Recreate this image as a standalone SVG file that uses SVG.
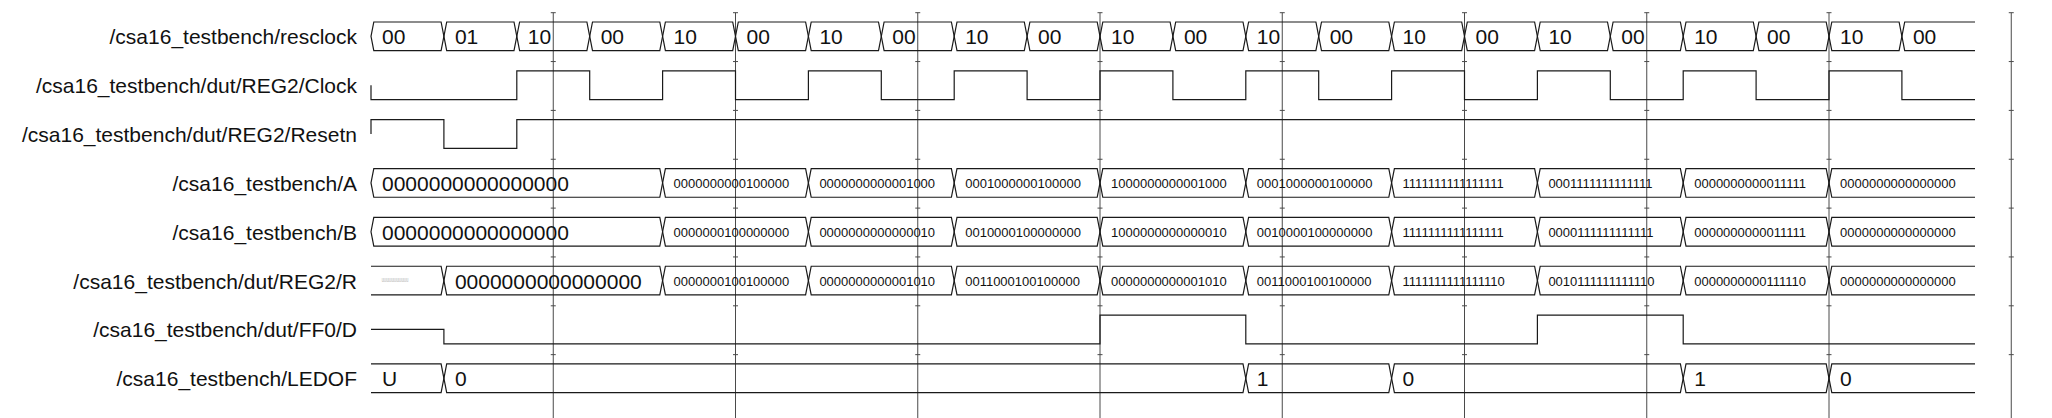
<svg xmlns="http://www.w3.org/2000/svg" xmlns:xlink="http://www.w3.org/1999/xlink" width="2052" height="418" viewBox="0 0 2052 418">
<style>
text{font-family:"Liberation Sans",Arial,sans-serif;fill:#111}
.lbl{font-size:21px;text-anchor:end}
.big{font-size:21px}
.sm{font-size:13px}
.tiny{font-size:5px;fill:#9a9a9a}
.w{fill:none;stroke:#1a1a1a;stroke-width:1.2;stroke-linejoin:miter}
.g{fill:none;stroke:#4a4a4a;stroke-width:1}
</style>
<defs>
<g id="gl">
<line class="g" x1="0" y1="12.7" x2="0" y2="418"/>
<path class="g" d="M-2.5,12.7h5M-2.5,61.55h5M-2.5,110.4h5M-2.5,159.25h5M-2.5,208.1h5M-2.5,256.95h5M-2.5,305.8h5M-2.5,354.65h5"/>
</g>
</defs>
<rect width="2052" height="418" fill="#fff"/>

<g id="connectors">
<use href="#gl" x="553.25"/>
<use href="#gl" x="735.5"/>
<use href="#gl" x="917.75"/>
<use href="#gl" x="1100"/>
<use href="#gl" x="1282.25"/>
<use href="#gl" x="1464.5"/>
<use href="#gl" x="1646.75"/>
<use href="#gl" x="1829"/>
<use href="#gl" x="2011.25"/>
</g>

<g id="sig-resclock" transform="translate(0,22)">
<text class="lbl" x="357" y="22.35">/csa16_testbench/resclock</text>
<g class="w">
<polygon points="371,14.35 373.8,0 441.1,0 443.9,14.35 441.1,28.7 373.8,28.7"/>
<polygon points="443.9,14.35 446.7,0 514,0 516.8,14.35 514,28.7 446.7,28.7"/>
<polygon points="516.8,14.35 519.6,0 586.9,0 589.7,14.35 586.9,28.7 519.6,28.7"/>
<polygon points="589.7,14.35 592.5,0 659.8,0 662.6,14.35 659.8,28.7 592.5,28.7"/>
<polygon points="662.6,14.35 665.4,0 732.7,0 735.5,14.35 732.7,28.7 665.4,28.7"/>
<polygon points="735.5,14.35 738.3,0 805.6,0 808.4,14.35 805.6,28.7 738.3,28.7"/>
<polygon points="808.4,14.35 811.2,0 878.5,0 881.3,14.35 878.5,28.7 811.2,28.7"/>
<polygon points="881.3,14.35 884.1,0 951.4,0 954.2,14.35 951.4,28.7 884.1,28.7"/>
<polygon points="954.2,14.35 957,0 1024.3,0 1027.1,14.35 1024.3,28.7 957,28.7"/>
<polygon points="1027.1,14.35 1029.9,0 1097.2,0 1100,14.35 1097.2,28.7 1029.9,28.7"/>
<polygon points="1100,14.35 1102.8,0 1170.1,0 1172.9,14.35 1170.1,28.7 1102.8,28.7"/>
<polygon points="1172.9,14.35 1175.7,0 1243,0 1245.8,14.35 1243,28.7 1175.7,28.7"/>
<polygon points="1245.8,14.35 1248.6,0 1315.9,0 1318.7,14.35 1315.9,28.7 1248.6,28.7"/>
<polygon points="1318.7,14.35 1321.5,0 1388.8,0 1391.6,14.35 1388.8,28.7 1321.5,28.7"/>
<polygon points="1391.6,14.35 1394.4,0 1461.7,0 1464.5,14.35 1461.7,28.7 1394.4,28.7"/>
<polygon points="1464.5,14.35 1467.3,0 1534.6,0 1537.4,14.35 1534.6,28.7 1467.3,28.7"/>
<polygon points="1537.4,14.35 1540.2,0 1607.5,0 1610.3,14.35 1607.5,28.7 1540.2,28.7"/>
<polygon points="1610.3,14.35 1613.1,0 1680.4,0 1683.2,14.35 1680.4,28.7 1613.1,28.7"/>
<polygon points="1683.2,14.35 1686,0 1753.3,0 1756.1,14.35 1753.3,28.7 1686,28.7"/>
<polygon points="1756.1,14.35 1758.9,0 1826.2,0 1829,14.35 1826.2,28.7 1758.9,28.7"/>
<polygon points="1829,14.35 1831.8,0 1899.1,0 1901.9,14.35 1899.1,28.7 1831.8,28.7"/>
<path d="M1975,0H1904.7L1901.9,14.35L1904.7,28.7H1975"/>
</g>
<text class="big" x="382" y="22.35">00</text>
<text class="big" x="454.9" y="22.35">01</text>
<text class="big" x="527.8" y="22.35">10</text>
<text class="big" x="600.7" y="22.35">00</text>
<text class="big" x="673.6" y="22.35">10</text>
<text class="big" x="746.5" y="22.35">00</text>
<text class="big" x="819.4" y="22.35">10</text>
<text class="big" x="892.3" y="22.35">00</text>
<text class="big" x="965.2" y="22.35">10</text>
<text class="big" x="1038.1" y="22.35">00</text>
<text class="big" x="1111" y="22.35">10</text>
<text class="big" x="1183.9" y="22.35">00</text>
<text class="big" x="1256.8" y="22.35">10</text>
<text class="big" x="1329.7" y="22.35">00</text>
<text class="big" x="1402.6" y="22.35">10</text>
<text class="big" x="1475.5" y="22.35">00</text>
<text class="big" x="1548.4" y="22.35">10</text>
<text class="big" x="1621.3" y="22.35">00</text>
<text class="big" x="1694.2" y="22.35">10</text>
<text class="big" x="1767.1" y="22.35">00</text>
<text class="big" x="1840" y="22.35">10</text>
<text class="big" x="1912.9" y="22.35">00</text>
</g>

<g id="sig-clock" transform="translate(0,70.85)">
<text class="lbl" x="357" y="22.35">/csa16_testbench/dut/REG2/Clock</text>
<path class="w" d="M371,14.35V28.7H516.8V0H589.7V28.7H662.6V0H735.5V28.7H808.4V0H881.3V28.7H954.2V0H1027.1V28.7H1100V0H1172.9V28.7H1245.8V0H1318.7V28.7H1391.6V0H1464.5V28.7H1537.4V0H1610.3V28.7H1683.2V0H1756.1V28.7H1829V0H1901.9V28.7H1975"/>
</g>

<g id="sig-resetn" transform="translate(0,119.7)">
<text class="lbl" x="357" y="22.35">/csa16_testbench/dut/REG2/Resetn</text>
<path class="w" d="M371,14.35V0H443.9V28.7H516.8V0H1975"/>
</g>

<g id="sig-A" transform="translate(0,168.55)">
<text class="lbl" x="357" y="22.35">/csa16_testbench/A</text>
<g class="w">
<polygon points="371,14.35 373.8,0 659.8,0 662.6,14.35 659.8,28.7 373.8,28.7"/>
<polygon points="662.6,14.35 665.4,0 805.6,0 808.4,14.35 805.6,28.7 665.4,28.7"/>
<polygon points="808.4,14.35 811.2,0 951.4,0 954.2,14.35 951.4,28.7 811.2,28.7"/>
<polygon points="954.2,14.35 957,0 1097.2,0 1100,14.35 1097.2,28.7 957,28.7"/>
<polygon points="1100,14.35 1102.8,0 1243,0 1245.8,14.35 1243,28.7 1102.8,28.7"/>
<polygon points="1245.8,14.35 1248.6,0 1388.8,0 1391.6,14.35 1388.8,28.7 1248.6,28.7"/>
<polygon points="1391.6,14.35 1394.4,0 1534.6,0 1537.4,14.35 1534.6,28.7 1394.4,28.7"/>
<polygon points="1537.4,14.35 1540.2,0 1680.4,0 1683.2,14.35 1680.4,28.7 1540.2,28.7"/>
<polygon points="1683.2,14.35 1686,0 1826.2,0 1829,14.35 1826.2,28.7 1686,28.7"/>
<path d="M1975,0H1831.8L1829,14.35L1831.8,28.7H1975"/>
</g>
<text class="big" x="382" y="22.35">0000000000000000</text>
<text class="sm" x="673.6" y="19.85">0000000000100000</text>
<text class="sm" x="819.4" y="19.85">0000000000001000</text>
<text class="sm" x="965.2" y="19.85">0001000000100000</text>
<text class="sm" x="1111" y="19.85">1000000000001000</text>
<text class="sm" x="1256.8" y="19.85">0001000000100000</text>
<text class="sm" x="1402.6" y="19.85">1111111111111111</text>
<text class="sm" x="1548.4" y="19.85">0001111111111111</text>
<text class="sm" x="1694.2" y="19.85">0000000000011111</text>
<text class="sm" x="1840" y="19.85">0000000000000000</text>
</g>

<g id="sig-B" transform="translate(0,217.4)">
<text class="lbl" x="357" y="22.35">/csa16_testbench/B</text>
<g class="w">
<polygon points="371,14.35 373.8,0 659.8,0 662.6,14.35 659.8,28.7 373.8,28.7"/>
<polygon points="662.6,14.35 665.4,0 805.6,0 808.4,14.35 805.6,28.7 665.4,28.7"/>
<polygon points="808.4,14.35 811.2,0 951.4,0 954.2,14.35 951.4,28.7 811.2,28.7"/>
<polygon points="954.2,14.35 957,0 1097.2,0 1100,14.35 1097.2,28.7 957,28.7"/>
<polygon points="1100,14.35 1102.8,0 1243,0 1245.8,14.35 1243,28.7 1102.8,28.7"/>
<polygon points="1245.8,14.35 1248.6,0 1388.8,0 1391.6,14.35 1388.8,28.7 1248.6,28.7"/>
<polygon points="1391.6,14.35 1394.4,0 1534.6,0 1537.4,14.35 1534.6,28.7 1394.4,28.7"/>
<polygon points="1537.4,14.35 1540.2,0 1680.4,0 1683.2,14.35 1680.4,28.7 1540.2,28.7"/>
<polygon points="1683.2,14.35 1686,0 1826.2,0 1829,14.35 1826.2,28.7 1686,28.7"/>
<path d="M1975,0H1831.8L1829,14.35L1831.8,28.7H1975"/>
</g>
<text class="big" x="382" y="22.35">0000000000000000</text>
<text class="sm" x="673.6" y="19.85">0000000100000000</text>
<text class="sm" x="819.4" y="19.85">0000000000000010</text>
<text class="sm" x="965.2" y="19.85">0010000100000000</text>
<text class="sm" x="1111" y="19.85">1000000000000010</text>
<text class="sm" x="1256.8" y="19.85">0010000100000000</text>
<text class="sm" x="1402.6" y="19.85">1111111111111111</text>
<text class="sm" x="1548.4" y="19.85">0000111111111111</text>
<text class="sm" x="1694.2" y="19.85">0000000000011111</text>
<text class="sm" x="1840" y="19.85">0000000000000000</text>
</g>

<g id="sig-R" transform="translate(0,266.25)">
<text class="lbl" x="357" y="22.35">/csa16_testbench/dut/REG2/R</text>
<g class="w">
<path d="M371,0H441.1L443.9,14.35L441.1,28.7H371"/>
<polygon points="443.9,14.35 446.7,0 659.8,0 662.6,14.35 659.8,28.7 446.7,28.7"/>
<polygon points="662.6,14.35 665.4,0 805.6,0 808.4,14.35 805.6,28.7 665.4,28.7"/>
<polygon points="808.4,14.35 811.2,0 951.4,0 954.2,14.35 951.4,28.7 811.2,28.7"/>
<polygon points="954.2,14.35 957,0 1097.2,0 1100,14.35 1097.2,28.7 957,28.7"/>
<polygon points="1100,14.35 1102.8,0 1243,0 1245.8,14.35 1243,28.7 1102.8,28.7"/>
<polygon points="1245.8,14.35 1248.6,0 1388.8,0 1391.6,14.35 1388.8,28.7 1248.6,28.7"/>
<polygon points="1391.6,14.35 1394.4,0 1534.6,0 1537.4,14.35 1534.6,28.7 1394.4,28.7"/>
<polygon points="1537.4,14.35 1540.2,0 1680.4,0 1683.2,14.35 1680.4,28.7 1540.2,28.7"/>
<polygon points="1683.2,14.35 1686,0 1826.2,0 1829,14.35 1826.2,28.7 1686,28.7"/>
<path d="M1975,0H1831.8L1829,14.35L1831.8,28.7H1975"/>
</g>
<text class="tiny" x="381.7" y="15.85" textLength="26.6" lengthAdjust="spacingAndGlyphs">UUUUUUUUUUUUUUUU</text>
<text class="big" x="454.9" y="22.35">0000000000000000</text>
<text class="sm" x="673.6" y="19.85">0000000100100000</text>
<text class="sm" x="819.4" y="19.85">0000000000001010</text>
<text class="sm" x="965.2" y="19.85">0011000100100000</text>
<text class="sm" x="1111" y="19.85">0000000000001010</text>
<text class="sm" x="1256.8" y="19.85">0011000100100000</text>
<text class="sm" x="1402.6" y="19.85">1111111111111110</text>
<text class="sm" x="1548.4" y="19.85">0010111111111110</text>
<text class="sm" x="1694.2" y="19.85">0000000000111110</text>
<text class="sm" x="1840" y="19.85">0000000000000000</text>
</g>

<g id="sig-FF0D" transform="translate(0,315.1)">
<text class="lbl" x="357" y="22.35">/csa16_testbench/dut/FF0/D</text>
<path class="w" d="M371,14.35H443.9V28.7H1100V0H1245.8V28.7H1537.4V0H1683.2V28.7H1975"/>
</g>

<g id="sig-LEDOF" transform="translate(0,363.95)">
<text class="lbl" x="357" y="22.35">/csa16_testbench/LEDOF</text>
<g class="w">
<path d="M371,0H441.1L443.9,14.35L441.1,28.7H371"/>
<polygon points="443.9,14.35 446.7,0 1243,0 1245.8,14.35 1243,28.7 446.7,28.7"/>
<polygon points="1245.8,14.35 1248.6,0 1388.8,0 1391.6,14.35 1388.8,28.7 1248.6,28.7"/>
<polygon points="1391.6,14.35 1394.4,0 1680.4,0 1683.2,14.35 1680.4,28.7 1394.4,28.7"/>
<polygon points="1683.2,14.35 1686,0 1826.2,0 1829,14.35 1826.2,28.7 1686,28.7"/>
<path d="M1975,0H1831.8L1829,14.35L1831.8,28.7H1975"/>
</g>
<text class="big" x="382" y="22.35">U</text>
<text class="big" x="454.9" y="22.35">0</text>
<text class="big" x="1256.8" y="22.35">1</text>
<text class="big" x="1402.6" y="22.35">0</text>
<text class="big" x="1694.2" y="22.35">1</text>
<text class="big" x="1840" y="22.35">0</text>
</g>
</svg>
